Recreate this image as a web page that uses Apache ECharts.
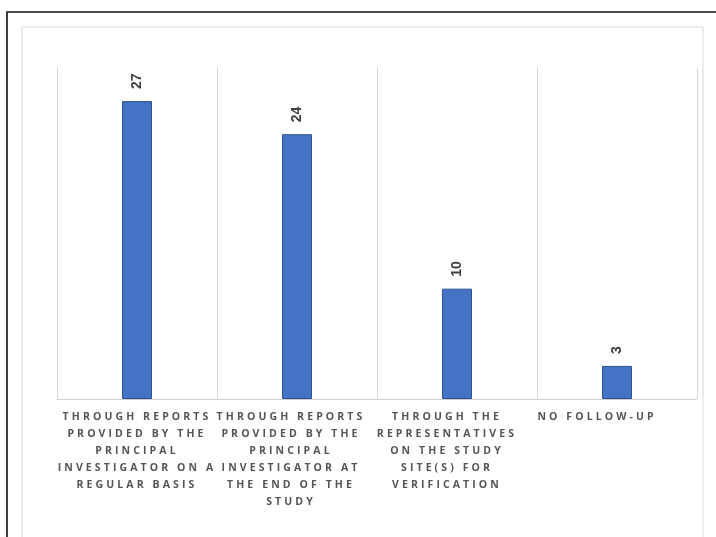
<!DOCTYPE html>
<html>
<head>
<meta charset="utf-8">
<style>
html,body{margin:0;padding:0;background:#fff;}
#chart{width:716px;height:537px;}
</style>
<script src="https://cdn.jsdelivr.net/npm/echarts@6/dist/echarts.min.js"></script>
</head>
<body>
<div id="chart"></div>
<script>
// Letter-spaced axis labels (Open Sans only)
(function(){
  var d = Object.getOwnPropertyDescriptor(CanvasRenderingContext2D.prototype, 'font');
  if (!d) return;
  Object.defineProperty(CanvasRenderingContext2D.prototype, 'font', {
    configurable: true,
    get: function(){ return d.get.call(this); },
    set: function(v){
      d.set.call(this, v);
      if ('letterSpacing' in this) this.letterSpacing = /Open Sans/.test(v) ? '3.1px' : '0px';
    }
  });
})();

const categories = [
  'THROUGH REPORTS\nPROVIDED BY THE\nPRINCIPAL\nINVESTIGATOR ON A\nREGULAR BASIS',
  'THROUGH REPORTS\nPROVIDED BY THE\nPRINCIPAL\nINVESTIGATOR AT\nTHE END OF THE\nSTUDY',
  'THROUGH THE\nREPRESENTATIVES\nON THE STUDY\nSITE(S) FOR\nVERIFICATION',
  'NO FOLLOW-UP'
];
const values = [27, 24, 10, 3];
// horizontal shift of each category label (px, negative = left), as seen in the reference
const labelShift = [0, -6, -10, -20];

const chart = echarts.init(document.getElementById('chart'), null, {renderer: 'canvas'});
chart.setOption({
  animation: false,
  backgroundColor: '#fff',
  graphic: [
    {type: 'rect', shape: {x: 7, y: 12, width: 760, height: 600}, style: {fill: 'none', stroke: '#111', lineWidth: 1.6}, silent: true},
    {type: 'rect', shape: {x: 22, y: 27, width: 681, height: 600}, style: {fill: 'none', stroke: '#d9d9d9', lineWidth: 1}, silent: true}
  ],
  grid: {left: 57, right: 19, top: 68, bottom: 138, containLabel: false},
  xAxis: {
    type: 'category',
    data: categories.map(function(c, i){
      var s = labelShift[i];
      return {value: c, textStyle: {padding: s < 0 ? [0, -2 * s, 0, 0] : [0, 0, 0, 2 * s]}};
    }),
    axisLine: {lineStyle: {color: '#d0d0d0', width: 1}},
    axisTick: {show: false},
    splitLine: {show: true, lineStyle: {color: '#d6d6d6', width: 1}},
    axisLabel: {
      interval: 0,
      margin: 10,
      color: '#555555',
      fontFamily: 'Open Sans',
      fontWeight: 'bold',
      fontSize: 10.5,
      lineHeight: 17,
      align: 'center'
    }
  },
  yAxis: {
    type: 'value', min: 0, max: 30, show: false,
    splitLine: {show: false}
  },
  series: [{
    type: 'bar',
    data: values,
    barWidth: 30,
    itemStyle: {color: '#4472C4', borderColor: '#2F528F', borderWidth: 1},
    label: {
      show: true,
      position: 'top',
      distance: 12,
      rotate: 90,
      align: 'left',
      verticalAlign: 'middle',
      color: '#404040',
      fontFamily: 'Liberation Sans',
      fontWeight: 'bold',
      fontSize: 14
    }
  }]
});
</script>
</body>
</html>
